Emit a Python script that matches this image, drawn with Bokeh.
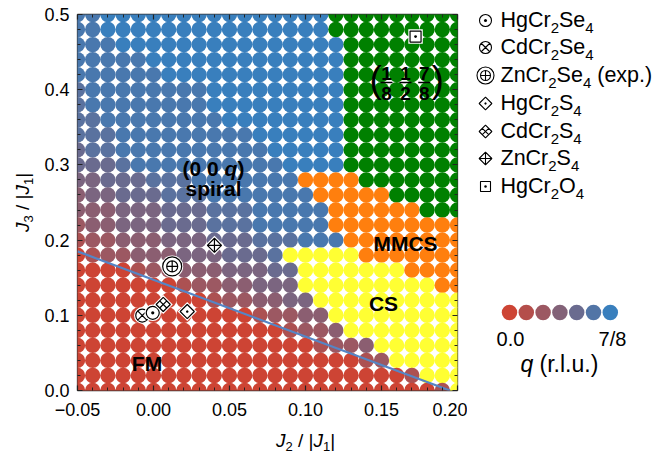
import math
from bokeh.plotting import figure
from bokeh.models import Range1d, LinearAxis, FixedTicker, CustomJSTickFormatter, Label, ColumnDataSource
from bokeh.layouts import row, column
from bokeh.embed import file_html
from bokeh.resources import INLINE

# ---------------- data ----------------
J2_VALUES = [-0.05, -0.04, -0.03, -0.02, -0.01, 0.00, 0.01, 0.02, 0.03, 0.04, 0.05, 0.06, 0.07,
             0.08, 0.09, 0.10, 0.11, 0.12, 0.13, 0.14, 0.15, 0.16, 0.17, 0.18, 0.19, 0.20]
# rows listed from top (J3 = 0.50) to bottom (J3 = 0.00)
J3_VALUES = [0.50, 0.48, 0.46, 0.44, 0.42, 0.40, 0.38, 0.36, 0.34, 0.32, 0.30, 0.28, 0.26,
             0.24, 0.22, 0.20, 0.18, 0.16, 0.14, 0.12, 0.10, 0.08, 0.06, 0.04, 0.02, 0.00]
# phase codes: digit = spiral q level (0 = FM, 9 = 7/8), G = (1/8 1/2 7/8), O = MMCS, Y = CS
PHASE_ROWS = [
    "88999999999999999GGGGGGGGG",
    "88999999999999999GGGGGGGGG",
    "888999999999999999GGGGGGGG",
    "888889999999999999GGGGGGGG",
    "888888999999999999GGGGGGGG",
    "788888888999999999GGGGGGGG",
    "788888888999999999GGGGGGGG",
    "778888888899999999GGGGGGGG",
    "777888888888999999GGGGGGGG",
    "677888888888899999GGGGGGGG",
    "666788888888889999GGGGGGGG",
    "556667778888888OOOOGGGGGGG",
    "4556667778888888OOOOOGGGGG",
    "44455566677788888OOOOOOGGG",
    "34455566677788888OOOOOOOOO",
    "233444555666777888OOOOOOOO",
    "02334445556667YYYYYOOOOOOO",
    "000023344455566YYYYYYYOOOO",
    "000000023344555YYYYYYYYYOO",
    "0000000002334455YYYYYYYYYY",
    "00000000000023344YYYYYYYYY",
    "000000000000002334YYYYYYYY",
    "00000000000000002334YYYYYY",
    "000000000000000000023YYYYY",
    "00000000000000000000002YYY",
    "0000000000000000000000002Y",
]
Q_MAX = 7.0 / 8.0
LEVEL_MAX = 9
FM_LINE_J2 = [-0.05, 0.195]
FM_LINE_J3 = [0.185, 0.0]

MATERIALS = ["HgCr2Se4", "CdCr2Se4", "ZnCr2Se4 (exp.)", "HgCr2S4", "CdCr2S4", "ZnCr2S4", "HgCr2O4"]
MAT_J2 = [-0.0005, -0.0074, 0.0123, 0.0222, 0.0064, 0.0401, 0.1724]
MAT_J3 = [0.1033, 0.0997, 0.165, 0.105, 0.1144, 0.193, 0.4707]

Q_LEGEND = [0.0, 0.146, 0.292, 0.4375, 0.583, 0.729, 0.875]

X_TICKS = [-0.05, 0.0, 0.05, 0.10, 0.15, 0.20]
X_MINOR = [-0.04, -0.03, -0.02, -0.01, 0.01, 0.02, 0.03, 0.04, 0.06, 0.07, 0.08, 0.09,
           0.11, 0.12, 0.13, 0.14, 0.16, 0.17, 0.18, 0.19]
Y_TICKS = [0.0, 0.1, 0.2, 0.3, 0.4, 0.5]
Y_MINOR = [0.02, 0.04, 0.06, 0.08, 0.12, 0.14, 0.16, 0.18, 0.22, 0.24, 0.26, 0.28,
           0.32, 0.34, 0.36, 0.38, 0.42, 0.44, 0.46, 0.48]

# ---------------- styling ----------------
FONT = "Liberation Sans"
C_LOW = (205, 68, 52)
C_HIGH = (57, 127, 189)
GREEN = "#008000"
ORANGE = "#ff7f0e"
YELLOW = "#ffff33"
LINE_BLUE = "#5585c5"

def q_color(q):
    t = max(0.0, min(1.0, q / Q_MAX))
    r = [round(C_LOW[k] + (C_HIGH[k] - C_LOW[k]) * t) for k in range(3)]
    return "#%02x%02x%02x" % tuple(r)

def code_color(ch):
    if ch == "G":
        return GREEN
    if ch == "O":
        return ORANGE
    if ch == "Y":
        return YELLOW
    return q_color(int(ch) / LEVEL_MAX * Q_MAX)

# Arial / Liberation Sans advance widths (1/1000 em)
WR = {'H': 722, 'g': 556, 'C': 722, 'r': 333, 'S': 667, 'e': 556, 'd': 556, 'Z': 611, 'n': 556,
      'O': 778, '(': 333, ')': 333, 'x': 500, 'p': 556, '.': 278, '/': 278, 'q': 556, 'l': 222,
      'u': 556, '|': 260, 'J': 500, ' ': 278, 's': 500, 'i': 222, 'a': 556, 'F': 611, 'M': 833}
WB = {'(': 333, ')': 333, ' ': 278, 'q': 611, 's': 556, 'p': 611, 'i': 278, 'r': 389, 'a': 556,
      'l': 278, 'F': 611, 'M': 833, 'C': 722, 'S': 667}
MID = 0.35  # distance baseline -> middle of the em box, in em

def tw(s, size, bold=False):
    tbl = WB if bold else WR
    return sum(tbl.get(c, 556) for c in s) * size / 1000.0

def rich(plot, conv, x, y, pieces, align="left", angle=0.0):
    """x, y: start (or centre) of the baseline in page pixels."""
    widths = [tw(t, sz, "bold" in st) for t, sz, st, dy in pieces]
    total = sum(widths)
    off = -total / 2.0 if align == "center" else 0.0
    for (t, sz, st, dy), w in zip(pieces, widths):
        lead = len(t) - len(t.lstrip(" "))
        shift = tw(" " * lead, sz, "bold" in st)
        txt = t.strip(" ")
        o = off + shift
        perp = dy - MID * sz
        if angle == 0.0:
            px, py = x + o, y + perp
        else:
            px, py = x + perp, y - o
        dx, dyy = conv(px, py)
        plot.add_layout(Label(x=dx, y=dyy, text=txt, text_font=FONT, text_font_size="%.1fpx" % sz,
                              text_font_style=st, text_align="left", text_baseline="middle",
                              angle=angle, text_color="black"))
        off += w

# page layout (page pixels)
FX0, FX1, FY0, FY1 = 77.0, 457.0, 14.0, 390.0
YLAB_W = 40
MAIN_W_LEFT = int(FX0) - YLAB_W
MAIN_W_RIGHT = 10
MAIN_BOTTOM = 38
PAGE_H = 456
MAIN_H = int(FY1) + MAIN_BOTTOM
LX0 = YLAB_W + MAIN_W_LEFT + 380 + MAIN_W_RIGHT
LW = 186

def conv_main(px, py):
    return (-0.05 + (px - FX0) / (FX1 - FX0) * 0.25, (FY1 - py) / (FY1 - FY0) * 0.5)

ident = lambda a, b: (a, b)

def blank(x0, x1, y0, y1):
    f = figure(x_range=Range1d(x0, x1), y_range=Range1d(y1, y0),
               frame_width=int(x1 - x0), frame_height=int(y1 - y0), min_border=0,
               output_backend="svg", toolbar_location=None, tools="",
               x_axis_type=None, y_axis_type=None)
    f.xgrid.visible = False
    f.ygrid.visible = False
    f.outline_line_color = None
    return f

# ---------------- main figure ----------------
p = figure(x_range=Range1d(-0.05, 0.2), y_range=Range1d(0.0, 0.5),
           frame_width=380, frame_height=376, min_border_left=MAIN_W_LEFT,
           min_border_right=MAIN_W_RIGHT, min_border_top=int(FY0), min_border_bottom=MAIN_BOTTOM,
           output_backend="svg", toolbar_location=None, tools="")
p.xgrid.visible = False
p.ygrid.visible = False
p.outline_line_color = "#333333"
p.outline_line_width = 1.3

xs, ys, cs = [], [], []
for r, row_s in enumerate(PHASE_ROWS):
    for c, ch in enumerate(row_s[:len(J2_VALUES)]):
        xs.append(J2_VALUES[c])
        ys.append(J3_VALUES[r])
        cs.append(code_color(ch))
src = ColumnDataSource(dict(x=xs, y=ys, c=cs))
p.scatter("x", "y", source=src, size=15.4, marker="circle", fill_color="c", line_color=None)

p.line(FM_LINE_J2, FM_LINE_J3, line_color=LINE_BLUE, line_width=2.2)

# material markers
MSTYLE = [("circle_dot", 13, 0.0), ("circle_x", 13, 0.0), ("circle_cross", 11, 0.0),
          ("square_dot", 10, math.pi / 4), ("square_cross", 10, math.pi / 4),
          ("square_x", 10, math.pi / 4), ("square_dot", 11, 0.0)]
order = [1, 0, 4, 3, 2, 5, 6]
for k in order:
    mk, sz, ang = MSTYLE[k]
    x0, y0 = [MAT_J2[k]], [MAT_J3[k]]
    if k == 2:
        p.scatter(x0, y0, marker="circle", size=22, fill_color="white", line_color=None)
        p.scatter(x0, y0, marker="circle", size=19, fill_color="white", line_color="black", line_width=1.2)
    else:
        p.scatter(x0, y0, marker=mk.split("_")[0], size=sz + 3.5, angle=ang,
                  fill_color="white", line_color=None)
    p.scatter(x0, y0, marker=mk, size=sz, angle=ang, fill_color="white",
              line_color="black", line_width=1.2)

# axes
xt = FixedTicker(ticks=X_TICKS, minor_ticks=X_MINOR)
yt = FixedTicker(ticks=Y_TICKS, minor_ticks=Y_MINOR)
ax_bottom = p.below[0]
ax_left = p.left[0]
ax_bottom.ticker = xt
ax_left.ticker = yt
ax_bottom.formatter = CustomJSTickFormatter(code="return (tick < -1e-9 ? '\\u2212' : '') + Math.abs(tick).toFixed(2);")
ax_left.formatter = CustomJSTickFormatter(code="return Math.abs(tick).toFixed(1);")
ax_top = LinearAxis(ticker=xt, formatter=CustomJSTickFormatter(code="return '';"))
ax_right = LinearAxis(ticker=yt, formatter=CustomJSTickFormatter(code="return '';"))
p.add_layout(ax_top, "above")
p.add_layout(ax_right, "right")
for ax in [ax_bottom, ax_left, ax_top, ax_right]:
    ax.axis_line_color = None
    ax.major_tick_in = 5
    ax.major_tick_out = 0
    ax.minor_tick_in = 3
    ax.minor_tick_out = 0
    ax.major_tick_line_color = "#222222"
    ax.minor_tick_line_color = "#222222"
    ax.major_tick_line_width = 1.2
    ax.minor_tick_line_width = 1.0
for ax in [ax_top, ax_right]:
    ax.major_label_text_font_size = "0px"
    ax.major_label_standoff = 0
for ax in [ax_bottom, ax_left]:
    ax.major_label_text_font = FONT
    ax.major_label_text_font_size = "18px"
    ax.major_label_text_color = "black"
ax_bottom.major_label_standoff = 12
ax_left.major_label_standoff = 8

N, IT, B, BI = "normal", "italic", "bold", "bold italic"

# region labels (baselines in page pixels)
rich(p, conv_main, 213, 175, [("(0 0 ", 21, B, 0), ("q", 21, BI, 0), (")", 21, B, 0)], align="center")
rich(p, conv_main, 213, 195, [("spiral", 21, B, 0)], align="center")
rich(p, conv_main, 146.5, 370.5, [("FM", 21, B, 0)], align="center")
rich(p, conv_main, 383, 310, [("CS", 21, B, 0)], align="center")
rich(p, conv_main, 405, 250, [("MMCS", 21, B, 0)], align="center")
# (1/8 1/2 7/8)
for cx, num, den in [(386, "1", "8"), (405, "1", "2"), (423.7, "7", "8")]:
    rich(p, conv_main, cx, 79.3, [(num, 19, B, 0)], align="center")
    rich(p, conv_main, cx, 99.3, [(den, 19, B, 0)], align="center")
    xa, ya = conv_main(cx - 6, 82)
    xb, yb = conv_main(cx + 6, 82)
    p.segment([xa], [ya], [xb], [yb], line_color="black", line_width=1.6)
rich(p, conv_main, 369, 92, [("(", 37, N, 0)])
rich(p, conv_main, 431, 92, [(")", 37, N, 0)])

# ---------------- axis-title figures ----------------
pyl = blank(0, YLAB_W, 0, PAGE_H)
rich(pyl, ident, 29, 202, [("J", 19, IT, 0), ("3", 13, N, 4), (" / |", 19, N, 0),
                          ("J", 19, IT, 0), ("1", 13, N, 4), ("|", 19, N, 0)], align="center",
     angle=math.pi / 2)
pxl = blank(YLAB_W, LX0, MAIN_H, PAGE_H)
rich(pxl, ident, 268, 447, [("J", 19, IT, 0), ("2", 13, N, 4), (" / |", 19, N, 0),
                           ("J", 19, IT, 0), ("1", 13, N, 4), ("|", 19, N, 0)], align="center")

# ---------------- legend figure ----------------
p2 = blank(LX0, LX0 + LW, 0, PAGE_H)
LEG_Y = [20, 47, 75, 103, 131, 158, 186]
LMST = [("circle_dot", 12, 0.0), ("circle_x", 12, 0.0), ("circle_cross", 10, 0.0),
        ("square_dot", 9, math.pi / 4), ("square_cross", 9, math.pi / 4),
        ("square_x", 9, math.pi / 4), ("square_dot", 10, 0.0)]
for k, name in enumerate(MATERIALS):
    mk, sz, ang = LMST[k]
    if k == 2:
        p2.scatter([485], [LEG_Y[k]], marker="circle", size=17, fill_color="white",
                   line_color="black", line_width=1.1)
    p2.scatter([485], [LEG_Y[k]], marker=mk, size=sz, angle=ang, fill_color="white",
               line_color="black", line_width=1.1)
    base = name.split(" ")[0]
    extra = name[len(base):]
    pieces = []
    buf = ""
    for ch in base:
        if ch.isdigit():
            if buf:
                pieces.append((buf, 21.5, N, 0))
                buf = ""
            pieces.append((ch, 15, N, 5))
        else:
            buf += ch
    if buf:
        pieces.append((buf, 21.5, N, 0))
    if extra:
        pieces.append((extra, 21.5, N, 0))
    rich(p2, ident, 500, LEG_Y[k] + 7.5, pieces)

# q colour legend
QX = [509 + 16.8 * k for k in range(len(Q_LEGEND))]
p2.scatter(QX, [312] * len(QX), marker="circle", size=15.5,
           fill_color=[q_color(q) for q in Q_LEGEND], line_color=None)
rich(p2, ident, 510, 345, [("0.0", 20, N, 0)], align="center")
rich(p2, ident, 612, 345, [("7/8", 20, N, 0)], align="center")
rich(p2, ident, 559.5, 372, [("q", 23, IT, 0), (" (r.l.u.)", 23, N, 0)], align="center")

layout = row(pyl, column(p, pxl), p2)
open("out.html", "w").write(file_html(layout, INLINE))
